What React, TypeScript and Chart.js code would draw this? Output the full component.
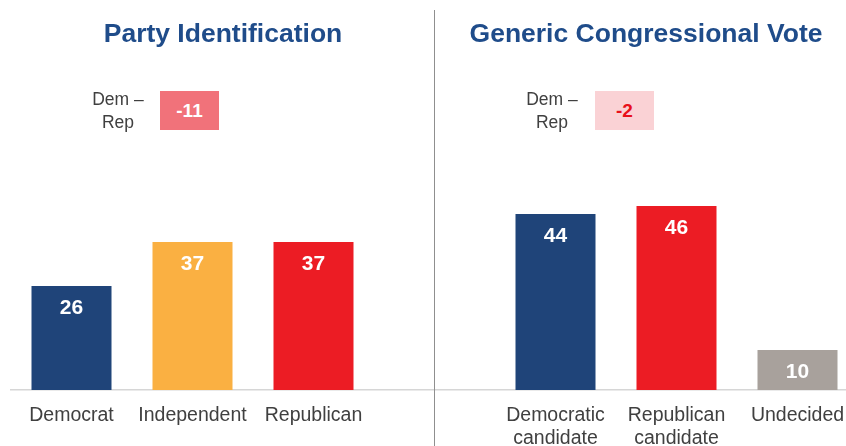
import React, { useEffect, useRef } from "react";
import { Chart, registerables } from "chart.js";

Chart.register(...registerables);

const partyCategories: string[][] = [["Democrat"], ["Independent"], ["Republican"]];
const partyValues: number[] = [26, 37, 37];
const partyColors: string[] = ["#1F4479", "#FAB042", "#EC1C24"];

const voteCategories: string[][] = [["Democratic", "candidate"], ["Republican", "candidate"], ["Undecided"]];
const voteValues: number[] = [44, 46, 10];
const voteColors: string[] = ["#1F4479", "#EC1C24", "#A8A19C"];

const panelTitles: string[] = ["Party Identification", "Generic Congressional Vote"];
const gapLabels: string[] = ["-11", "-2"];

const FONT = "'Liberation Sans', Arial, Helvetica, sans-serif";

const labels = [...partyCategories, [""], ...voteCategories];
const values: (number | null)[] = [...partyValues, null, ...voteValues];
const colors = [...partyColors, "#ffffff", ...voteColors];

const barLabelPlugin = {
  id: "barLabels",
  afterDatasetsDraw(chart: any) {
    const ctx = chart.ctx;
    const meta = chart.getDatasetMeta(0);
    ctx.save();
    ctx.font = `bold 21px ${FONT}`;
    ctx.fillStyle = "#ffffff";
    ctx.textAlign = "center";
    ctx.textBaseline = "middle";
    meta.data.forEach((bar: any, i: number) => {
      const v = values[i];
      if (v === null || v === undefined) return;
      ctx.fillText(String(v), bar.x, bar.y + 22);
    });
    ctx.restore();
  },
};

const dividerPlugin = {
  id: "divider",
  afterDraw(chart: any) {
    const ctx = chart.ctx;
    const x = chart.scales.x.getPixelForValue(3);
    ctx.save();
    ctx.strokeStyle = "#8f8f8f";
    ctx.lineWidth = 1;
    ctx.beginPath();
    ctx.moveTo(Math.floor(x) + 0.5, 10);
    ctx.lineTo(Math.floor(x) + 0.5, chart.height);
    ctx.stroke();
    ctx.restore();
  },
};

export default function App() {
  const ref = useRef<HTMLCanvasElement | null>(null);

  useEffect(() => {
    if (!ref.current) return;
    const chart = new Chart(ref.current, {
      type: "bar",
      data: {
        labels,
        datasets: [
          {
            data: values as any,
            backgroundColor: colors,
            borderWidth: 0,
            categoryPercentage: 1,
            barPercentage: 80 / 121,
          },
        ],
      },
      options: {
        animation: false,
        responsive: false,
        maintainAspectRatio: false,
        layout: { padding: { left: 11, right: 2, top: 150, bottom: 0 } },
        plugins: {
          legend: { display: false },
          tooltip: { enabled: false },
          title: { display: false },
        },
        scales: {
          x: {
            grid: { display: false, drawTicks: false },
            border: { display: true, color: "#d6d6d6", width: 1.5 },
            ticks: {
              color: "#404040",
              font: { family: FONT, size: 19.5, lineHeight: 1.18 },
              padding: 14,
              maxRotation: 0,
              autoSkip: false,
            },
            afterFit: (scale: any) => {
              scale.height = 56;
            },
          },
          y: {
            display: false,
            min: 0,
            max: 60,
          },
        },
      },
      plugins: [barLabelPlugin, dividerPlugin],
    });
    return () => chart.destroy();
  }, []);

  const titleStyle = (cx: number): React.CSSProperties => ({
    position: "absolute",
    left: cx - 250,
    width: 500,
    top: 20,
    textAlign: "center",
    fontFamily: FONT,
    fontWeight: "bold",
    fontSize: 26.5,
    lineHeight: "27px",
    color: "#1F4C8A",
    whiteSpace: "nowrap",
  });

  const demRepStyle = (cx: number): React.CSSProperties => ({
    position: "absolute",
    left: cx - 40,
    width: 80,
    top: 88,
    textAlign: "center",
    fontFamily: FONT,
    fontSize: 17.5,
    lineHeight: "23px",
    color: "#404040",
  });

  const boxStyle = (left: number, bg: string, fg: string): React.CSSProperties => ({
    position: "absolute",
    left,
    top: 91,
    width: 59,
    height: 39,
    background: bg,
    color: fg,
    fontFamily: FONT,
    fontWeight: "bold",
    fontSize: 19,
    lineHeight: "39px",
    textAlign: "center",
  });

  return (
    <div
      style={{
        position: "absolute",
        left: 0,
        top: 0,
        width: 846,
        height: 446,
        overflow: "hidden",
        background: "#ffffff",
      }}
    >
      <canvas ref={ref} width={860} height={446} style={{ position: "absolute", left: 0, top: 0, width: 860, height: 446 }} />
      <div style={titleStyle(223)}>{panelTitles[0]}</div>
      <div style={titleStyle(646)}>{panelTitles[1]}</div>
      <div style={demRepStyle(118)}>
        Dem –<br />Rep
      </div>
      <div style={demRepStyle(552)}>
        Dem –<br />Rep
      </div>
      <div style={boxStyle(160, "#F1727A", "#ffffff")}>{gapLabels[0]}</div>
      <div style={boxStyle(595, "#FAD2D5", "#E8101A")}>{gapLabels[1]}</div>
    </div>
  );
}
